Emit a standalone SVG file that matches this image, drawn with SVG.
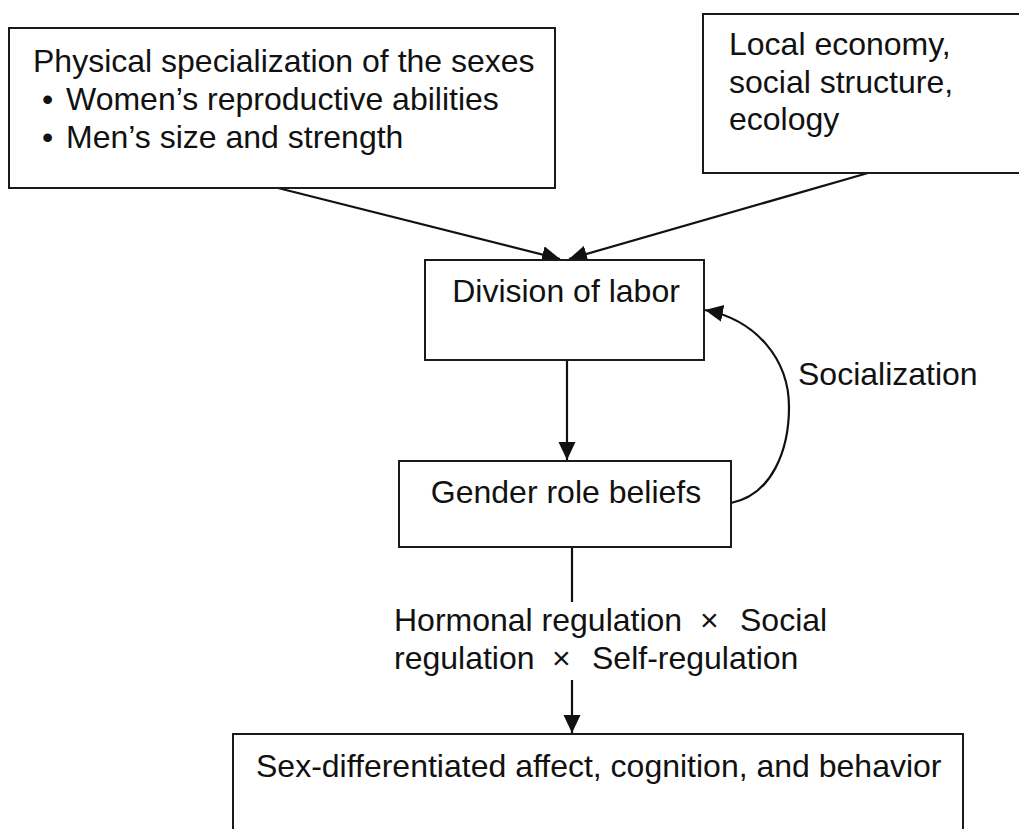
<svg xmlns="http://www.w3.org/2000/svg" width="1019" height="829" viewBox="0 0 1019 829">
  <style>
    .box { fill: #ffffff; stroke: #1a1a1a; stroke-width: 2; }
    .lbl { font-family: "Liberation Sans", Arial, sans-serif; font-size: 32px; fill: #111111; }
    .mid { text-anchor: middle; }
    .edge { fill: none; stroke: #111111; stroke-width: 2.2; }
  </style>
  <defs>
    <marker id="arrow" markerUnits="userSpaceOnUse" markerWidth="20" markerHeight="20" refX="18" refY="8.5" orient="auto">
      <path d="M0,0 L18,8.5 L0,17 z" fill="#111111"/>
    </marker>
  </defs>
  <rect width="1019" height="829" fill="#ffffff"/>

  <g id="connectors">
    <path class="edge" d="M278,188 L560,259" marker-end="url(#arrow)"/>
    <path class="edge" d="M868,173 L569,259" marker-end="url(#arrow)"/>
    <path class="edge" d="M567,360 L567,460" marker-end="url(#arrow)"/>
    <path class="edge" d="M731,503 C772,495 789,450 789,407 C789,360 757,320 705,310" marker-end="url(#arrow)"/>
    <path class="edge" d="M572,547 L572,602"/>
    <path class="edge" d="M572,680 L572,733" marker-end="url(#arrow)"/>
  </g>

  <g id="node-physical">
    <rect class="box" x="9" y="28" width="546" height="160"/>
    <text class="lbl" x="33" y="72">Physical specialization of the sexes</text>
    <text class="lbl" y="110"><tspan x="42">•</tspan><tspan x="66">Women’s reproductive abilities</tspan></text>
    <text class="lbl" y="148"><tspan x="42">•</tspan><tspan x="66">Men’s size and strength</tspan></text>
  </g>

  <g id="node-local">
    <rect class="box" x="703" y="14" width="340" height="159"/>
    <text class="lbl" x="729" y="55">Local economy,</text>
    <text class="lbl" x="729" y="93">social structure,</text>
    <text class="lbl" x="729" y="130">ecology</text>
  </g>

  <g id="node-division">
    <rect class="box" x="425" y="260" width="279" height="100"/>
    <text class="lbl mid" x="566" y="302">Division of labor</text>
  </g>

  <g id="label-socialization">
    <text class="lbl" x="798" y="385">Socialization</text>
  </g>

  <g id="node-gender">
    <rect class="box" x="399" y="461" width="332" height="86"/>
    <text class="lbl mid" x="566" y="503">Gender role beliefs</text>
  </g>

  <g id="label-regulation">
    <text class="lbl" y="631"><tspan x="394">Hormonal regulation</tspan><tspan x="700">×</tspan><tspan x="740">Social</tspan></text>
    <text class="lbl" y="669"><tspan x="394">regulation</tspan><tspan x="552">×</tspan><tspan x="592">Self-regulation</tspan></text>
  </g>

  <g id="node-outcome">
    <rect class="box" x="233" y="734" width="730" height="120"/>
    <text class="lbl" x="256" y="777">Sex-differentiated affect, cognition, and behavior</text>
  </g>
</svg>
